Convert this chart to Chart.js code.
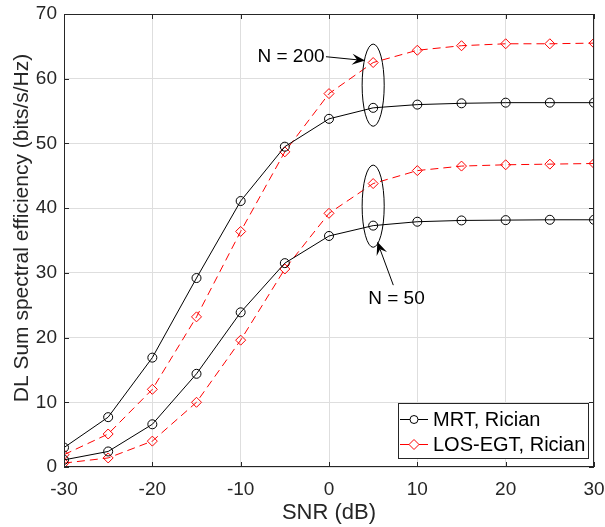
<!DOCTYPE html>
<html>
<head>
<meta charset="utf-8">
<script src="https://cdn.jsdelivr.net/npm/chart.js@4"></script>
<style>
  html, body { margin: 0; padding: 0; background: #fff; }
  #chart { display: block; }
</style>
</head>
<body>
<canvas id="chart" width="605" height="527"></canvas>
<script>
const snr = [-30, -25, -20, -15, -10, -5, 0, 5, 10, 15, 20, 25, 30];
const mrt200 = [3.0, 7.7, 16.9, 29.2, 41.1, 49.5, 53.8, 55.5, 56.0, 56.2, 56.3, 56.3, 56.3];
const egt200 = [1.9, 5.1, 12.0, 23.2, 36.4, 48.7, 57.7, 62.5, 64.4, 65.1, 65.4, 65.4, 65.5];
const mrt50 = [1.1, 2.4, 6.6, 14.4, 23.9, 31.5, 35.7, 37.3, 37.9, 38.1, 38.15, 38.2, 38.2];
const egt50 = [0.6, 1.4, 4.0, 10.0, 19.6, 30.6, 39.2, 43.8, 45.8, 46.5, 46.7, 46.8, 46.9];
const legendLabels = ['MRT, Rician', 'LOS-EGT, Rician'];
const xTicks = [-30, -20, -10, 0, 10, 20, 30];
const yTicks = [0, 10, 20, 30, 40, 50, 60, 70];

const FONT = '"Liberation Sans", Arial, Helvetica, sans-serif';
const TEXT = '#262626';

function toPoints(values) {
  return values.map((v, i) => ({ x: snr[i], y: v }));
}

function mrtStyle(values) {
  return {
    data: toPoints(values),
    borderColor: '#000',
    borderWidth: 1,
    pointStyle: 'circle',
    pointRadius: 4.5,
    pointBorderColor: '#000',
    pointBackgroundColor: 'rgba(0,0,0,0)',
    pointBorderWidth: 1,
    tension: 0,
    fill: false,
  };
}

function egtStyle(values) {
  return {
    data: toPoints(values),
    borderColor: '#ff0000',
    borderWidth: 1,
    borderDash: [8, 5],
    pointStyle: 'rectRot',
    pointRadius: 5,
    pointBorderColor: '#ff0000',
    pointBackgroundColor: 'rgba(0,0,0,0)',
    pointBorderWidth: 1,
    tension: 0,
    fill: false,
  };
}

function arrow(ctx, x1, y1, x2, y2) {
  const ang = Math.atan2(y2 - y1, x2 - x1);
  const len = 13, half = 5.5, back = 8;
  ctx.beginPath();
  ctx.moveTo(x1, y1);
  ctx.lineTo(x2 - Math.cos(ang) * back, y2 - Math.sin(ang) * back);
  ctx.stroke();
  ctx.save();
  ctx.translate(x2, y2);
  ctx.rotate(ang);
  ctx.beginPath();
  ctx.moveTo(0, 0);
  ctx.lineTo(-len, -half);
  ctx.lineTo(-back, 0);
  ctx.lineTo(-len, half);
  ctx.closePath();
  ctx.fill();
  ctx.restore();
}

const decorations = {
  id: 'decorations',
  afterDatasetsDraw(chart) {
    const ctx = chart.ctx;
    const { left, right, top, bottom } = chart.chartArea;
    const xs = chart.scales.x, ys = chart.scales.y;
    ctx.save();

    // axes box and inward ticks
    ctx.strokeStyle = TEXT;
    ctx.lineWidth = 1;
    ctx.strokeRect(left + 0.5, top + 0.5, right - left - 1, bottom - top - 1);
    ctx.beginPath();
    xTicks.forEach(t => {
      const px = Math.round(xs.getPixelForValue(t)) + 0.5;
      ctx.moveTo(px, bottom); ctx.lineTo(px, bottom - 5);
      ctx.moveTo(px, top); ctx.lineTo(px, top + 5);
    });
    yTicks.forEach(t => {
      const py = Math.round(ys.getPixelForValue(t)) + 0.5;
      ctx.moveTo(left, py); ctx.lineTo(left + 5, py);
      ctx.moveTo(right, py); ctx.lineTo(right - 5, py);
    });
    ctx.stroke();

    // ellipses around the N groups
    ctx.strokeStyle = '#000';
    [59.0, 40.3].forEach(cy => {
      const cx = xs.getPixelForValue(5);
      const rx = xs.getPixelForValue(6.25) - cx;
      const ry = ys.getPixelForValue(cy - 6.35) - ys.getPixelForValue(cy);
      ctx.beginPath();
      ctx.ellipse(cx, ys.getPixelForValue(cy), rx, ry, 0, 0, Math.PI * 2);
      ctx.stroke();
    });

    // labels with arrows
    ctx.fillStyle = '#000';
    ctx.font = '19px ' + FONT;
    ctx.textAlign = 'center';
    ctx.textBaseline = 'middle';
    ctx.fillText('N = 200', xs.getPixelForValue(-4.3), ys.getPixelForValue(63.4));
    ctx.fillText('N = 50', xs.getPixelForValue(7.64), ys.getPixelForValue(26.0));
    arrow(ctx, xs.getPixelForValue(-0.34), ys.getPixelForValue(63.4),
      xs.getPixelForValue(4.08), ys.getPixelForValue(62.8));
    arrow(ctx, xs.getPixelForValue(7.28), ys.getPixelForValue(28.1),
      xs.getPixelForValue(5.47), ys.getPixelForValue(34.8));

    // legend box
    const bx = 398, by = 403, bw = 190, bh = 55;
    ctx.fillStyle = '#fff';
    ctx.fillRect(bx, by, bw, bh);
    ctx.strokeStyle = TEXT;
    ctx.strokeRect(bx + 0.5, by + 0.5, bw, bh);
    ctx.font = '20px ' + FONT;
    const rows = [chart.data.datasets[0], chart.data.datasets[1]];
    rows.forEach((ds, i) => {
      const ry = by + 16.5 + i * 25;
      ctx.strokeStyle = ds.borderColor;
      ctx.beginPath();
      ctx.moveTo(bx + 2, ry); ctx.lineTo(bx + 30, ry);
      ctx.stroke();
      ctx.beginPath();
      if (ds.pointStyle === 'circle') {
        ctx.arc(bx + 16, ry, 4, 0, Math.PI * 2);
      } else {
        ctx.moveTo(bx + 11, ry); ctx.lineTo(bx + 16, ry - 5);
        ctx.lineTo(bx + 21, ry); ctx.lineTo(bx + 16, ry + 5);
        ctx.closePath();
      }
      ctx.fillStyle = '#fff';
      ctx.fill();
      ctx.stroke();
      ctx.fillStyle = '#000';
      ctx.textAlign = 'left';
      ctx.fillText(legendLabels[i], bx + 35, ry + 1);
    });

    // y axis title
    ctx.fillStyle = TEXT;
    ctx.font = '21px ' + FONT;
    ctx.textAlign = 'center';
    ctx.translate(22, 228);
    ctx.rotate(-Math.PI / 2);
    ctx.fillText('DL Sum spectral efficiency (bits/s/Hz)', 0, 0);
    ctx.restore();
  }
};

new Chart(document.getElementById('chart'), {
  type: 'line',
  data: {
    datasets: [
      mrtStyle(mrt200),
      egtStyle(egt200),
      mrtStyle(mrt50),
      egtStyle(egt50),
    ],
  },
  options: {
    responsive: false,
    animation: false,
    layout: {
      padding: { top: 14, right: 11, left: 0, bottom: 0 }
    },
    plugins: {
      legend: { display: false },
      tooltip: { enabled: false }
    },
    scales: {
      x: {
        type: 'linear',
        min: -30,
        max: 30,
        afterFit: (scale) => {
          scale.height = 60;
          scale.paddingLeft = 0;
          scale.paddingRight = 0;
        },
        afterBuildTicks: (scale) => { scale.ticks = xTicks.map(v => ({ value: v })); },
        grid: { color: '#dedede', drawTicks: false },
        border: { display: false },
        ticks: {
          color: TEXT,
          padding: 11,
          font: { family: FONT, size: 19 },
          maxRotation: 0
        },
        title: {
          display: true,
          text: 'SNR (dB)',
          color: TEXT,
          font: { family: FONT, size: 22 },
          padding: { top: 0, bottom: 1 }
        }
      },
      y: {
        min: 0,
        max: 70,
        afterFit: (scale) => {
          scale.width = 64;
          scale.paddingTop = 0;
          scale.paddingBottom = 0;
        },
        afterBuildTicks: (scale) => { scale.ticks = yTicks.map(v => ({ value: v })); },
        grid: { color: '#dedede', drawTicks: false },
        border: { display: false },
        ticks: {
          color: TEXT,
          padding: 7,
          font: { family: FONT, size: 19 }
        }
      }
    }
  },
  plugins: [decorations]
});
</script>
</body>
</html>
